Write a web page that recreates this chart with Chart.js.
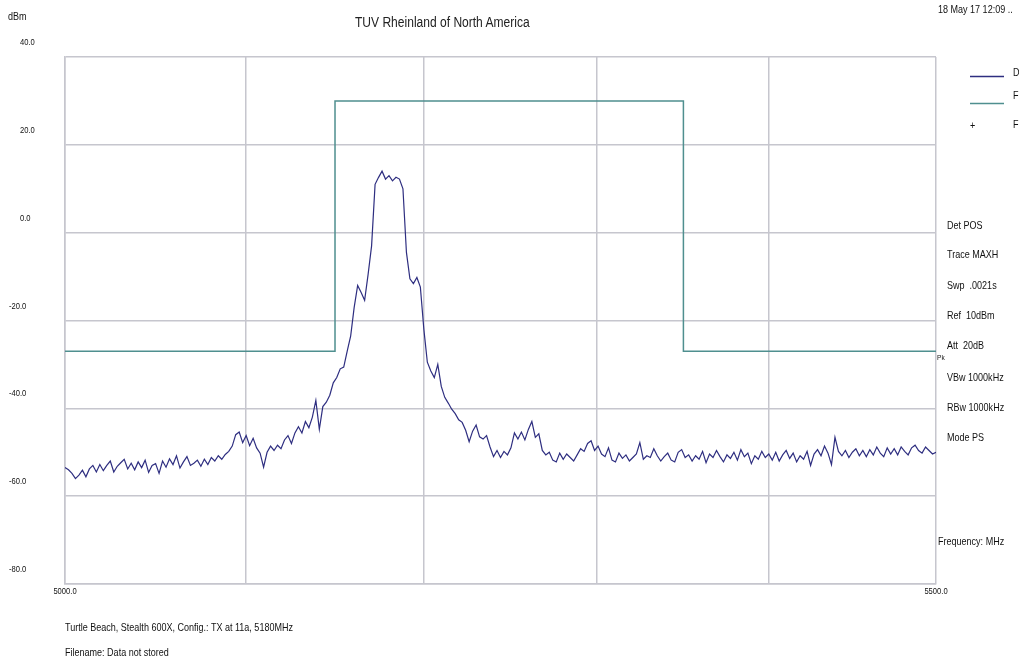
<!DOCTYPE html>
<html>
<head>
<meta charset="utf-8">
<script src="https://cdn.jsdelivr.net/npm/chart.js@4/dist/chart.umd.min.js"></script>
<style>
  html, body { margin: 0; padding: 0; background: #fff; overflow: hidden; }
  #wrap { position: relative; width: 1019px; height: 663px; overflow: hidden; }
  #c { position: absolute; left: 0; top: 0; }
  .t { position: absolute; font-family: "Liberation Sans", Arial, sans-serif; font-size: 11px; line-height: 12px;
       height: 12px; white-space: pre; color: #111; transform: scaleX(0.82); transform-origin: left center; }
</style>
</head>
<body>
<div id="wrap">
  <canvas id="c" width="1019" height="663"></canvas>
  <div class="t" style="left:8px;top:10px;">dBm</div>
  <div class="t" style="left:355px;top:14px;font-size:14px;line-height:16px;height:16px;transform:scaleX(0.86);color:#222;">TUV Rheinland of North America</div>
  <div class="t" style="left:938px;top:3px;">18 May 17 12:09 ..</div>
  <div class="t" style="left:1013px;top:66px;">Data</div>
  <div class="t" style="left:1013px;top:89px;">FCC Limit</div>
  <div class="t" style="left:970px;top:119px;">+</div>
  <div class="t" style="left:1013px;top:118px;">Final</div>
  <div class="t" style="left:947px;top:219px;">Det POS</div>
  <div class="t" style="left:947px;top:248px;">Trace MAXH</div>
  <div class="t" style="left:947px;top:279px;">Swp  .0021s</div>
  <div class="t" style="left:947px;top:309px;">Ref  10dBm</div>
  <div class="t" style="left:947px;top:339px;">Att  20dB</div>
  <div class="t" style="left:937px;top:353px;font-size:8px;line-height:10px;height:10px;">Pk</div>
  <div class="t" style="left:947px;top:371px;">VBw 1000kHz</div>
  <div class="t" style="left:947px;top:401px;">RBw 1000kHz</div>
  <div class="t" style="left:947px;top:431px;">Mode PS</div>
  <div class="t" style="left:938px;top:535px;">Frequency: MHz</div>
  <div class="t" style="left:65px;top:621px;">Turtle Beach, Stealth 600X, Config.: TX at 11a, 5180MHz</div>
  <div class="t" style="left:65px;top:646px;">Filename: Data not stored</div>
</div>
<script>
// ---- data ----
const FREQ_START = 5000;
const FREQ_STEP = 2;
const FREQ_MIN = 5000;
const FREQ_MAX = 5500;
const LEVEL_MIN = -80;
const LEVEL_MAX = 40;

// measured trace, dBm (one value every FREQ_STEP MHz from FREQ_START)
const traceLevels = [
  -53.5, -54.0, -54.8, -56.0, -55.2, -54.1, -55.6, -53.8, -53.0, -54.5,
  -52.8, -54.2, -53.0, -52.0, -54.5, -53.2, -52.4, -51.6, -53.8, -52.5,
  -54.0, -52.2, -53.5, -51.8, -54.6, -53.0, -52.6, -54.8, -52.0, -53.4,
  -51.5, -52.8, -50.8, -53.6, -52.2, -51.0, -53.0, -52.5, -51.8, -53.2,
  -51.6, -52.8, -51.2, -52.0, -50.8, -51.6, -50.5, -49.8, -48.6, -46.0,
  -45.4, -47.8, -46.2, -48.5, -46.8, -49.0, -50.2, -53.4, -50.0, -48.6,
  -49.6, -48.4, -49.2, -47.2, -46.2, -48.0, -45.6, -44.2, -45.6, -43.0,
  -44.4, -42.0, -38.2, -44.8, -39.6, -38.6, -37.0, -34.2, -33.0, -31.0,
  -30.6, -27.0, -23.5, -17.0, -12.0, -13.6, -15.4, -9.5, -3.0, 11.0,
  12.6, 14.0, 12.2, 13.0, 11.8, 12.6, 12.2, 10.0, -4.5, -10.5,
  -11.6, -10.2, -12.4, -22.0, -29.5, -31.5, -33.0, -30.0, -35.0, -37.5,
  -38.8, -40.2, -41.2, -42.6, -43.2, -45.0, -47.6, -45.2, -43.8, -46.5,
  -47.0, -46.2, -48.8, -51.0, -49.6, -51.2, -49.8, -50.6, -49.0, -45.6,
  -47.0, -45.4, -47.2, -44.8, -43.0, -46.6, -45.8, -49.6, -50.6, -50.0,
  -51.8, -52.2, -50.2, -51.6, -50.4, -51.2, -52.0, -50.6, -49.2, -49.8,
  -48.0, -47.4, -49.6, -48.6, -50.4, -51.0, -49.0, -51.8, -52.2, -50.2,
  -51.4, -50.6, -52.0, -51.2, -50.4, -47.8, -51.6, -50.8, -51.2, -49.2,
  -50.8, -52.0, -51.0, -50.2, -51.8, -52.2, -50.0, -49.4, -51.2, -50.6,
  -52.0, -50.8, -51.6, -49.8, -52.4, -50.4, -51.2, -49.6, -51.0, -52.2,
  -50.6, -51.4, -50.0, -51.8, -49.4, -51.0, -50.2, -52.6, -50.8, -51.6,
  -49.8, -51.2, -50.4, -51.8, -50.0, -52.0, -50.6, -49.6, -51.4, -50.2,
  -52.2, -50.8, -51.6, -49.8, -53.0, -50.4, -49.4, -50.8, -48.6, -50.2,
  -52.8, -46.6, -49.8, -50.8, -49.6, -51.2, -50.0, -49.2, -50.8, -49.6,
  -51.0, -49.4, -50.6, -48.8, -50.2, -51.0, -49.0, -50.4, -49.2, -50.6,
  -48.8, -49.8, -50.6, -49.0, -48.4, -49.6, -50.2, -48.8, -49.6, -50.4,
  -50.0
];

// limit line
const limitFreqs  = [5000, 5155, 5155, 5355, 5355, 5500];
const limitLevels = [-27, -27, 30, 30, -27, -27];

// grid / ticks
const xGridFreqs   = [5000, 5104, 5206, 5305, 5404, 5500];
const xTickValues  = [5000, 5500];
const xTickLabels  = ['5000.0', '5500.0'];
const yTickValues  = [40, 20, 0, -20, -40, -60, -80];
const yTickLabels  = ['40.0', '20.0', '0.0', '-20.0', '-40.0', '-60.0', '-80.0'];

const TRACE_COLOR = '#2e2e80';
const LIMIT_COLOR = '#4f8f8f';
const GRID_COLOR  = '#c6c6ce';

const traceData = traceLevels.map((v, i) => ({ x: FREQ_START + i * FREQ_STEP, y: v }));
const limitData = limitFreqs.map((f, i) => ({ x: f, y: limitLevels[i] }));

const labelPlugin = {
  id: 'labels',
  afterDraw(chart) {
    const ctx = chart.ctx;
    const xs = chart.scales.x, ys = chart.scales.y;
    ctx.save();
    ctx.fillStyle = '#111';
    ctx.font = '9.5px "Liberation Sans", Arial, sans-serif';
    ctx.textBaseline = 'middle';
    yTickValues.forEach((v, i) => {
      const y = ys.getPixelForValue(v) - 14.5;
      const lab = yTickLabels[i];
      const x = lab.startsWith('-') ? 9 : 20;
      ctx.save();
      ctx.translate(x, y);
      ctx.scale(0.8, 1);
      ctx.textAlign = 'left';
      ctx.fillText(lab, 0, 0);
      ctx.restore();
    });
    xTickValues.forEach((v, i) => {
      const x = xs.getPixelForValue(v);
      const y = chart.chartArea.bottom + 7;
      ctx.save();
      ctx.translate(x, y);
      ctx.scale(0.8, 1);
      ctx.textAlign = 'center';
      ctx.fillText(xTickLabels[i], 0, 0);
      ctx.restore();
    });
    ctx.lineWidth = 1.3;
    ctx.strokeStyle = TRACE_COLOR;
    ctx.beginPath(); ctx.moveTo(970, 76.5); ctx.lineTo(1004, 76.5); ctx.stroke();
    ctx.strokeStyle = LIMIT_COLOR;
    ctx.beginPath(); ctx.moveTo(970, 103.5); ctx.lineTo(1004, 103.5); ctx.stroke();
    ctx.restore();
  }
};

new Chart(document.getElementById('c'), {
  type: 'line',
  data: {
    datasets: [
      { label: 'Data', data: traceData, borderColor: TRACE_COLOR, borderWidth: 1.2,
        pointRadius: 0, tension: 0, fill: false, order: 1 },
      { label: 'Limit', data: limitData, borderColor: LIMIT_COLOR, borderWidth: 1.5,
        pointRadius: 0, tension: 0, fill: false, order: 2 }
    ]
  },
  options: {
    responsive: false,
    animation: false,
    events: [],
    layout: { padding: { left: 65, top: 57, right: 83, bottom: 79 } },
    plugins: { legend: { display: false }, tooltip: { enabled: false }, title: { display: false } },
    scales: {
      x: {
        type: 'linear', min: FREQ_MIN, max: FREQ_MAX,
        afterBuildTicks(scale) { scale.ticks = xGridFreqs.map(v => ({ value: v })); },
        ticks: { display: false },
        grid: { color: GRID_COLOR, lineWidth: 1.5, drawTicks: false },
        border: { display: true, color: GRID_COLOR, width: 1.5 }
      },
      y: {
        type: 'linear', min: LEVEL_MIN, max: LEVEL_MAX,
        afterBuildTicks(scale) { scale.ticks = yTickValues.map(v => ({ value: v })); },
        ticks: { display: false },
        grid: { color: GRID_COLOR, lineWidth: 1.5, drawTicks: false },
        border: { display: true, color: GRID_COLOR, width: 1.5 }
      }
    }
  },
  plugins: [labelPlugin]
});
</script>
</body>
</html>
